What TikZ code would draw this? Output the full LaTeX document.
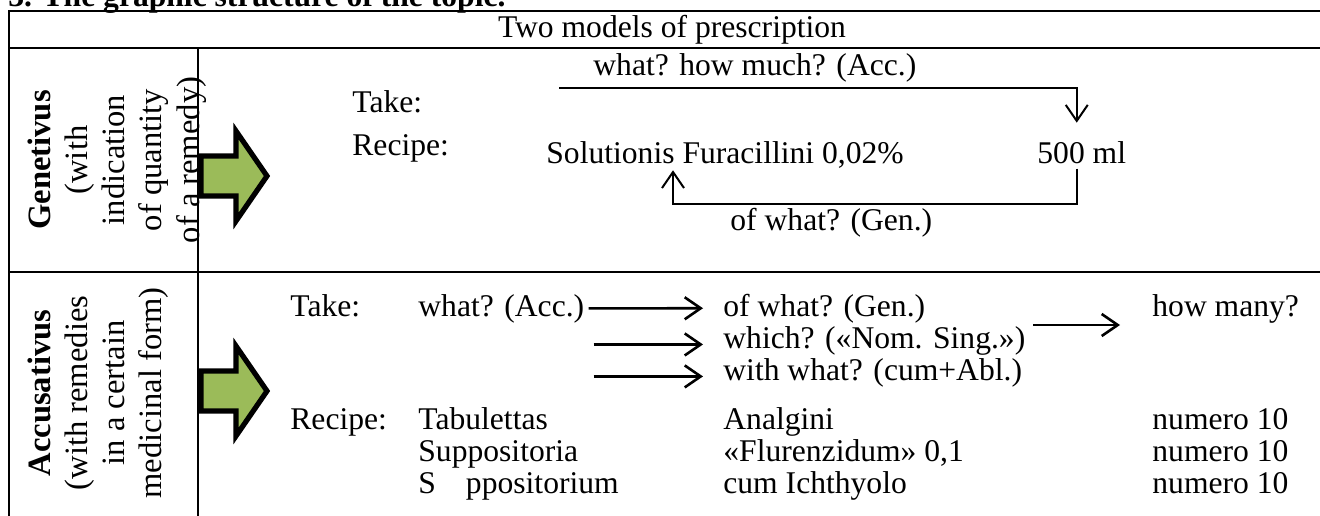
\documentclass[tikz,border=0pt]{standalone}
\usepackage{fontspec}
\setmainfont{Liberation Serif}
\usetikzlibrary{arrows.meta}
\definecolor{arrowgreen}{HTML}{9BBB59}
\newcommand\bodysize{\fontsize{15.8}{18.5}\selectfont}
\newcommand\sidesize{\fontsize{16.3}{18.6}\selectfont}
\tikzset{
	txt/.style={anchor=base west, inner sep=0pt},
	rule/.style={line width=1.3pt},
	barb/.style={-{Straight Barb[length=8pt,width=11pt]}, line width=1pt},
	abarb/.style={-{Straight Barb[length=8pt,width=11pt]}, line width=1.3pt},
	fatarrow/.style={draw=black, line width=2.6pt, fill=arrowgreen, miter limit=10},
	sidelabel/.style={rotate=90, align=center, inner sep=0pt, font=\sidesize}
}
\begin{document}
\begin{tikzpicture}[x=0.5pt,y=-0.5pt,font=\bodysize]
	\useasboundingbox (0,0) rectangle (1320,515);
	% Heading (cut at the top)
	\node[txt, font=\bodysize\bfseries] (heading) at (8,6) {3. The graphic structure of the topic.};
	% Table grid
	\draw[rule] (1330,11) -- (9,11) -- (9,520);
	\draw[rule] (9,48) -- (1330,48);
	\draw[rule] (198,48) -- (198,520);
	\draw[rule] (9,272) -- (1330,272);
	\node[anchor=base, inner sep=0pt] (title) at (672,37) {Two models of prescription};
	% Side labels
	\node[sidelabel] (genlabel) at (117,160) {\textbf{Genetivus}\\(with\\indication\\of quantity\\of a remedy)};
	\node[sidelabel] (acclabel) at (98,393) {\textbf{Accusativus}\\(with remedies\\in a certain\\medicinal form)};
	% Green arrows
	\foreach \ymid in {176,391}{
		\draw[fatarrow] (201,\ymid-20) -- (236,\ymid-20) -- (236,\ymid-45) -- (267,\ymid)
			-- (236,\ymid+45) -- (236,\ymid+20) -- (201,\ymid+20) -- cycle;
	}
	% Genetivus
	\node[txt] (gtake) at (352,112) {Take:};
	\node[txt] (grecipe) at (352,155) {Recipe:};
	\node[txt] (qacc) at (593,75) {what? how much? (Acc.)};
	\node[txt] (sol) at (546,163) {Solutionis Furacillini 0,02\%};
	\node[txt] (ml) at (1037,163) {500 ml};
	\node[txt] (qgen) at (730,230) {of what? (Gen.)};
	\coordinate (qstart) at (559,88);
	\coordinate (gcorner) at (673,204);
	\draw[barb, shorten >=9pt] (qstart) -| ([xshift=-2.5pt]ml.north);
	\draw[barb, shorten >=1pt] ([xshift=-2.5pt,yshift=-2.5pt]ml.south) |- (gcorner) -- (gcorner |- sol.south);
	% Accusativus
	\node[txt] (atake) at (290,316) {Take:};
	\node[txt] (awhat) at (418,316) {what? (Acc.)};
	\node[txt] (agen) at (723,316) {of what? (Gen.)};
	\node[txt] (anom) at (723,348) {which? («Nom. Sing.»)};
	\node[txt] (aabl) at (723,380) {with what? (cum+Abl.)};
	\node[txt] (amany) at (1152,316) {how many?};
	\node[txt] (arecipe) at (290,429) {Recipe:};
	\draw[abarb] ([xshift=2pt]awhat.east) -- ([xshift=-10pt]agen.west);
	\foreach \q in {anom,aabl}{
		\draw[abarb] ([xshift=4.5pt,yshift=-2pt]awhat.east |- \q.west) -- ([xshift=-10pt,yshift=-2pt]\q.west);
	}
	\coordinate (manyfrom) at (1033,325);
	\draw[abarb, shorten >=16pt] (manyfrom) -- (manyfrom -| amany.west);
	\foreach \form/\drug/\y [count=\i] in {Tabulettas/Analgini/429, Suppositoria/{«Flurenzidum» 0,1}/461, {S\hspace{0.95em}ppositorium}/cum Ichthyolo/493}{
		\node[txt] (form\i) at (418,\y) {\form};
		\node[txt] (drug\i) at (723,\y) {\drug};
		\node[txt] (num\i) at (1152,\y) {numero 10};
	}
\end{tikzpicture}
\end{document}
